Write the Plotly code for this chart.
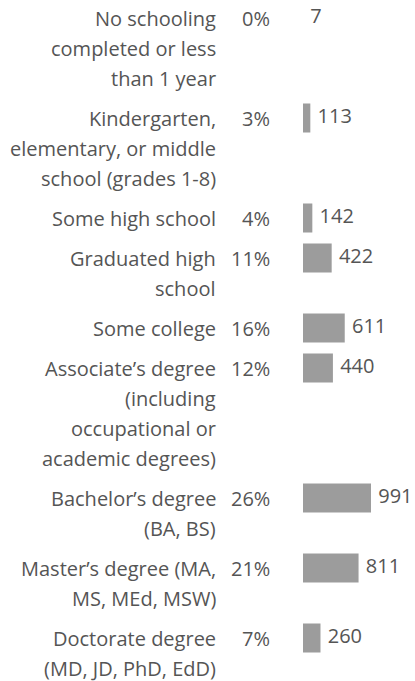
import plotly.graph_objects as go

# ── Data ───────────────────────────────────────────────────────────────────────
LABELS = [
    ['No schooling', 'completed or less', 'than 1 year'],
    ['Kindergarten,', 'elementary, or middle', 'school (grades 1-8)'],
    ['Some high school'],
    ['Graduated high', 'school'],
    ['Some college'],
    ['Associate’s degree', '(including', 'occupational or', 'academic degrees)'],
    ['Bachelor’s degree', '(BA, BS)'],
    ['Master’s degree (MA,', 'MS, MEd, MSW)'],
    ['Doctorate degree', '(MD, JD, PhD, EdD)'],
]
PERCENTS = ['0%', '3%', '4%', '11%', '16%', '12%', '26%', '21%', '7%']
COUNTS = [7, 113, 142, 422, 611, 440, 991, 811, 260]

# ── Style ──────────────────────────────────────────────────────────────────────
W, H = 415, 681
TEXT = '#555555'
BAR = 'rgba(156,156,156,0.995)'   # <1 alpha: plotly rounds bars, hair-thin ones vanish
FONT = 'Open Sans, sans-serif'
FSIZE = 20
LINE = 30        # px between wrapped label lines
GAP = 10         # px between rows
FIRST = 18       # px from top to the first line
LABEL_X = 218    # right edge of category labels
PCT_X = 272      # right edge of percent column
BAR_X0 = 303     # left edge of bars
X_MIN = 7        # value at the bars' left edge
PX_PER_UNIT = 0.0691

# row centres follow from how many lines each label wraps to
row_y = []
y = FIRST
for lines in LABELS:
    row_y.append(y)
    y += len(lines) * LINE + GAP

fig = go.Figure()
fig.add_trace(go.Bar(
    x=COUNTS, y=row_y, orientation='h', width=29,
    marker=dict(color=BAR, line=dict(width=0)),
    hoverinfo='skip',
))
fig.add_trace(go.Scatter(
    x=COUNTS, y=row_y, mode='markers+text',
    text=[str(n) for n in COUNTS], textposition='middle right',
    marker=dict(size=10, opacity=0), cliponaxis=False,
    textfont=dict(family=FONT, size=FSIZE, color=TEXT),
    hoverinfo='skip',
))

ann = []
for lines, cy, pct in zip(LABELS, row_y, PERCENTS):
    for i, t in enumerate(lines):
        ann.append(dict(x=LABEL_X / W, xref='paper', y=cy + i * LINE, yref='y',
                        text=t, xanchor='right', yanchor='middle', showarrow=False))
    ann.append(dict(x=PCT_X / W, xref='paper', y=cy, yref='y', text=pct,
                    xanchor='right', yanchor='middle', showarrow=False))

fig.update_layout(
    width=W, height=H,
    paper_bgcolor='#FFFFFF', plot_bgcolor='#FFFFFF',
    font=dict(family=FONT, size=FSIZE, color=TEXT),
    margin=dict(t=0, b=0, l=0, r=0),
    showlegend=False,
    annotations=ann,
    xaxis=dict(domain=[BAR_X0 / W, 1],
               range=[X_MIN, X_MIN + (W - BAR_X0) / PX_PER_UNIT],
               visible=False, fixedrange=True),
    yaxis=dict(range=[H, 0], visible=False, fixedrange=True),
)
fig.write_html('out.html', config={'displayModeBar': False},
               post_script="document.body.style.margin='0';")
